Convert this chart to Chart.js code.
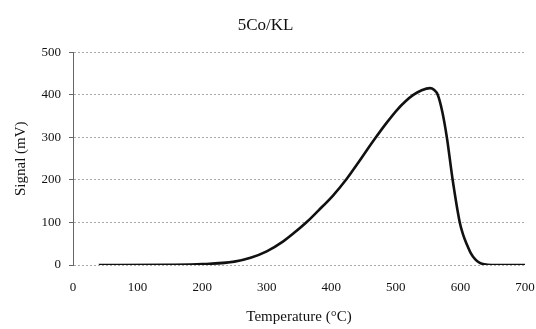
<!DOCTYPE html>
<html>
<head>
<meta charset="utf-8">
<script src="https://cdn.jsdelivr.net/npm/chart.js@4"></script>
<style>
  body { margin: 0; background: #fff; }
  #box { width: 536px; height: 329px; }
</style>
</head>
<body>
<div id="box"><canvas id="graph" width="536" height="329"></canvas></div>
<script>
// TPR profile
const temperature = [40, 150, 200, 250, 275, 300, 325, 342, 362, 380, 403, 424, 440, 455, 468, 485, 502, 515, 527, 540, 553, 559, 565, 572, 579, 588, 599, 604, 610, 616, 623, 630, 637, 648, 700];
const signal = [0, 0.5, 2, 8, 17, 32, 55, 75, 101, 128, 164, 203, 237, 270, 298, 333, 365, 385, 400, 411, 416, 412, 400, 360, 300, 200, 100, 72, 48, 28, 13, 5, 1.5, 0, 0];
const xTicks = [0, 100, 200, 300, 400, 500, 600, 700];
const yTicks = [0, 100, 200, 300, 400, 500];

const points = temperature.map((t, i) => ({ x: t, y: signal[i] }));
const serif = "'Liberation Serif', 'DejaVu Serif', serif";

new Chart(document.getElementById("graph"), {
  type: "scatter",
  data: {
    datasets: [{
      data: points,
      showLine: true,
      borderColor: "#111",
      borderWidth: 2.6,
      pointRadius: 0,
      cubicInterpolationMode: "monotone",
    }],
  },
  options: {
    responsive: false,
    animation: false,
    layout: { padding: { left: 6, right: 11, top: 0, bottom: 0 } },
    plugins: {
      legend: { display: false },
      tooltip: { enabled: false },
      title: {
        display: true,
        text: "5Co/KL",
        color: "#111",
        font: { family: serif, size: 17, weight: "normal" },
        padding: { top: 15, bottom: 17 },
      },
    },
    scales: {
      x: {
        type: "linear",
        min: 0,
        max: 700,
        afterBuildTicks: (s) => { s.ticks = xTicks.map((v) => ({ value: v })); },
        afterFit: (s) => { s.height = 64; },
        // invisible tick marks push the labels down without widening the side padding
        grid: { display: true, drawOnChartArea: false, drawTicks: true, tickLength: 14, color: "rgba(0,0,0,0)" },
        border: { display: false },
        ticks: { color: "#111", font: { family: serif, size: 13 }, padding: 1 },
        title: {
          display: true,
          text: "Temperature (°C)",
          color: "#111",
          font: { family: serif, size: 15 },
          padding: { top: 2, bottom: 3 },
        },
      },
      y: {
        min: 0,
        max: 500,
        afterBuildTicks: (s) => { s.ticks = yTicks.map((v) => ({ value: v })); },
        afterFit: (s) => { s.width = 67; },
        grid: {
          color: "#aaa",
          lineWidth: 1,
          tickColor: "#666",
          tickLength: 4,
        },
        border: { display: true, color: "#666", width: 1, dash: [2, 2] },
        ticks: { color: "#111", font: { family: serif, size: 13 }, padding: 8 },
        title: {
          display: true,
          text: "Signal (mV)",
          color: "#111",
          font: { family: serif, size: 15 },
          padding: { top: 6, bottom: 4 },
        },
      },
    },
  },
});
</script>
</body>
</html>
